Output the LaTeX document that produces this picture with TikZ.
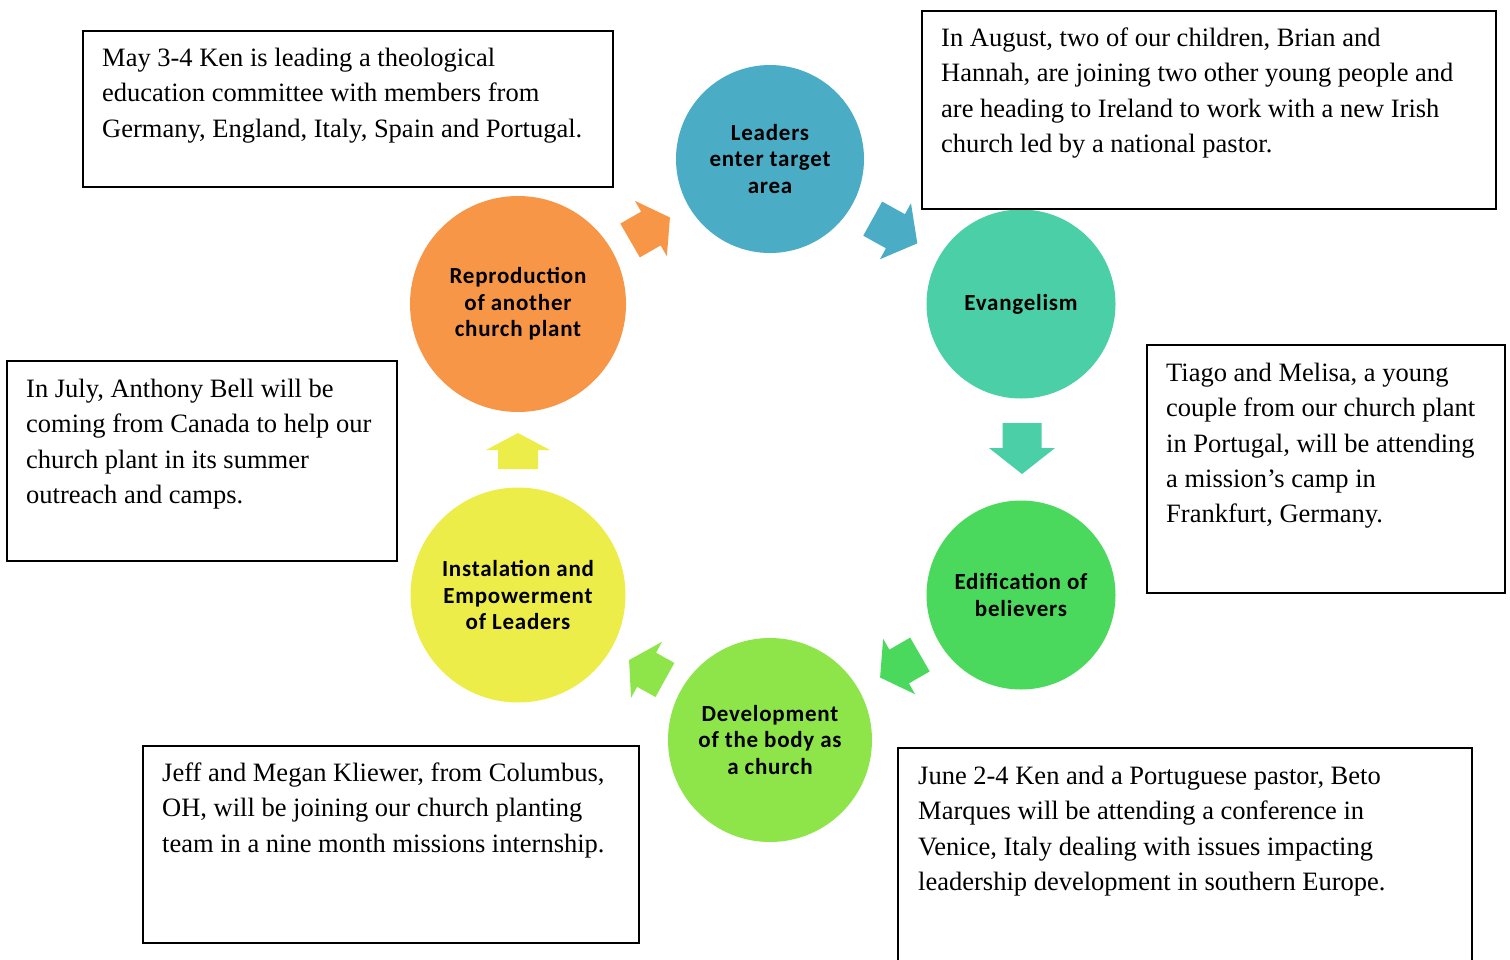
\documentclass[tikz,border=0pt]{standalone}
\usepackage{fontspec}
\setmainfont{Liberation Serif}
\newfontfamily\circfont{Carlito}[LetterSpace=3.3]
\definecolor{cLead}{HTML}{4BACC6}
\definecolor{cEvan}{HTML}{4BCFA6}
\definecolor{cEdif}{HTML}{4AD95D}
\definecolor{cDevl}{HTML}{8EE54A}
\definecolor{cInst}{HTML}{EDED4A}
\definecolor{cRepr}{HTML}{F79646}
\tikzset{
  stage/.style={circle, fill=#1, draw=none, inner sep=0pt, align=center,
    font=\circfont\bfseries\fontsize{23}{26.3}\selectfont, text=black},
  infobox/.style={rectangle, draw=black, line width=2pt, fill=none, anchor=north west, inner sep=0pt},
  infotext/.style={anchor=north west, inner sep=0pt, align=left,
    font=\fontsize{26.5}{35.3}\selectfont, text=black},
  pics/barrow/.style n args={4}{code={
    \fill[pic actions] ({-#1/2},{-#3}) -- ({#1/2-#2},{-#3}) -- ({#1/2-#2},{-#4})
      -- ({#1/2},0) -- ({#1/2-#2},{#4}) -- ({#1/2-#2},{#3}) -- ({-#1/2},{#3}) -- cycle;
  }}
}
\begin{document}
\begin{tikzpicture}[x=1pt,y=-1pt]
\clip (0,0) rectangle (1510,959);
\fill[white] (0,0) rectangle (1510,959);

% stages
\node[stage=cLead, minimum size=188] (lead) at (770,159) {Leaders\\enter target\\area};
\node[stage=cEvan, minimum size=189] (evan) at (1021,304) {Evangelism};
\node[stage=cEdif, minimum size=189] (edif) at (1021,595) {Edification of\\believers};
\node[stage=cDevl, minimum size=204] (devl) at (770,740) {Development\\of the body as\\a church};
\node[stage=cInst, minimum size=215] (inst) at (518,595) {Instalation and\\Empowerment\\of Leaders};
\node[stage=cRepr, minimum size=216] (repr) at (518,304) {Reproduction\\of another\\church plant};

% block arrows (rotation is counter-clockwise on the page)
\pic[fill=cRepr, rotate=30] at (650,229) {barrow={46}{22}{19.5}{32}};
\pic[fill=cLead, rotate=-29] at (895,231) {barrow={51}{25}{19.5}{32}};
\pic[fill=cEvan, rotate=-90] at (1022,448.5) {barrow={51}{26}{19.5}{33}};
\pic[fill=cEdif, rotate=-150] at (900,666) {barrow={46}{22}{19.5}{32}};
\pic[fill=cDevl, rotate=151] at (647,670) {barrow={41}{20}{19.5}{32}};
\pic[fill=cInst, rotate=90] at (518,451) {barrow={36}{17}{20}{32}};

% info boxes
\node[infobox, minimum width=530, minimum height=156] (b1) at (82,30) {};
\node[infotext] (t1) at (102,41.5) {\strut May 3-4 Ken is leading a theological\\education committee with members from\\Germany, England, Italy, Spain and Portugal.};

\node[infobox, minimum width=574, minimum height=198] (b2) at (921,10) {};
\node[infotext] (t2) at (941,21.5) {\strut In August, two of our children, Brian and\\Hannah, are joining two other young people and\\are heading to Ireland to work with a new Irish\\church led by a national pastor.};

\node[infobox, minimum width=358, minimum height=248] (b3) at (1146,344) {};
\node[infotext] (t3) at (1166,356.5) {\strut Tiago and Melisa, a young\\couple from our church plant\\in Portugal, will be attending\\a mission’s camp in\\Frankfurt, Germany.};

\node[infobox, minimum width=390, minimum height=200] (b4) at (6,360) {};
\node[infotext] (t4) at (26,372.5) {\strut In July, Anthony Bell will be\\coming from Canada to help our\\church plant in its summer\\outreach and camps.};

\node[infobox, minimum width=496, minimum height=197] (b5) at (142,745) {};
\node[infotext] (t5) at (162,756.5) {\strut Jeff and Megan Kliewer, from Columbus,\\OH, will be joining our church planting\\team in a nine month missions internship.};

\node[infobox, minimum width=574, minimum height=240] (b6) at (897,747) {};
\node[infotext] (t6) at (918,759.5) {\strut June 2-4 Ken and a Portuguese pastor, Beto\\Marques will be attending a conference in\\Venice, Italy dealing with issues impacting\\leadership development in southern Europe.};
\end{tikzpicture}
\end{document}
